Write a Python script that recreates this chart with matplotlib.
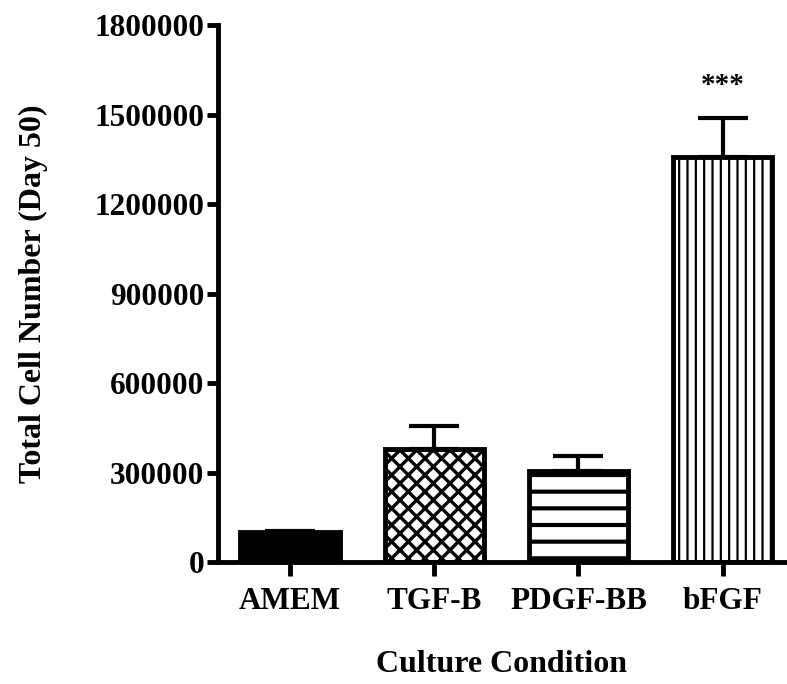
import matplotlib
matplotlib.use("Agg")
import matplotlib.pyplot as plt

# Day-50 cell counts per culture condition
conditions = ["AMEM", "TGF-B", "PDGF-BB", "bFGF"]
means = [100000, 380000, 305000, 1358000]
sem = [5000, 77000, 51000, 131000]
hatches = [None, "xx", "-", "||"]
hatch_widths = [1.0, 2.4, 3.0, 1.6]
significance = ["", "", "", "***"]
y_ticks = [0, 300000, 600000, 900000, 1200000, 1500000, 1800000]

plt.rcParams["font.family"] = ["Liberation Serif", "DejaVu Serif"]
plt.rcParams["font.weight"] = "bold"
plt.rcParams["hatch.linewidth"] = 2.2
plt.rcParams["hatch.color"] = "black"

fig = plt.figure(figsize=(7.87, 6.84), dpi=100)
ax = fig.add_axes([0.277, 0.178, 0.72, 0.785])

x = list(range(len(conditions)))
for i, (m, h, hw) in enumerate(zip(means, hatches, hatch_widths)):
    face = "black" if h is None else "white"
    bars = ax.bar(i, m, width=0.69, color=face, edgecolor="black",
                  linewidth=3.5, hatch=h, zorder=2)
    for b in bars:
        if hasattr(b, "set_hatch_linewidth"):
            b.set_hatch_linewidth(hw)

ax.errorbar(x, means, yerr=[[0] * len(sem), sem], fmt="none",
            ecolor="black", elinewidth=3, capsize=18, capthick=3, zorder=3)

for i, (m, s, lab) in enumerate(zip(means, sem, significance)):
    if lab:
        ax.text(i, m + s + 65000, lab, ha="center", va="bottom",
                fontsize=21, fontweight="bold")

ax.set_xlim(-0.5, 3.43)
ax.set_ylim(0, 1800000)
ax.set_yticks(y_ticks)
ax.set_yticklabels([str(v) for v in y_ticks])
ax.set_xticks(x)
ax.set_xticklabels(conditions)

for side in ("top", "right"):
    ax.spines[side].set_visible(False)
for side in ("left", "bottom"):
    ax.spines[side].set_linewidth(3.5)

ax.tick_params(axis="y", direction="out", length=8, width=3.5,
               labelsize=22.5, pad=2)
ax.tick_params(axis="x", direction="out", length=10, width=3.5,
               labelsize=22.5, pad=8)
for lbl in ax.get_xticklabels() + ax.get_yticklabels():
    lbl.set_fontweight("bold")

ax.set_ylabel("Total Cell Number (Day 50)", fontsize=23, fontweight="bold",
              labelpad=33)
ax.set_xlabel("Culture Condition", fontsize=23, fontweight="bold",
              labelpad=24)

fig.savefig("out.png", dpi=100)
